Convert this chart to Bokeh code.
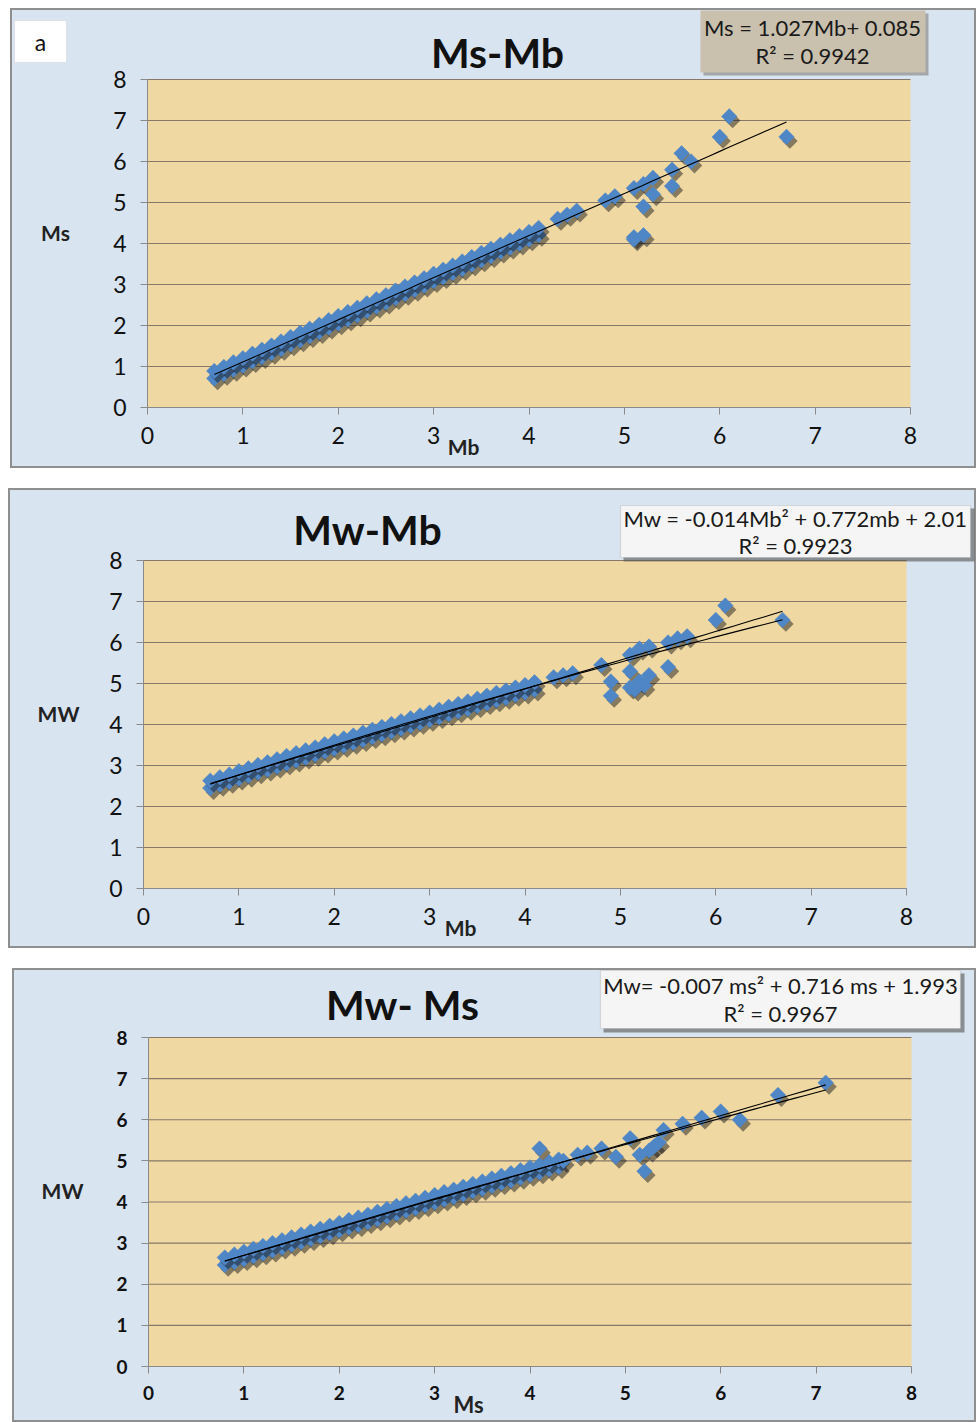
import numpy as np
from bokeh.plotting import figure
from bokeh.layouts import column
from bokeh.models import Label, FixedTicker, Range1d, LinearAxis, BoxAnnotation
from bokeh.embed import file_html
from bokeh.resources import INLINE

# ---------------- data ----------------
# Panel a: Ms vs Mb
mb_band1 = [0.7, 0.8, 0.9, 1.0, 1.1, 1.2, 1.3, 1.4, 1.5, 1.6, 1.7, 1.8, 1.9, 2.0, 2.1, 2.2, 2.3, 2.4,
            2.5, 2.6, 2.7, 2.8, 2.9, 3.0, 3.1, 3.2, 3.3, 3.4, 3.5, 3.6, 3.7, 3.8, 3.9, 4.0, 4.1]
ms_band1_lo = [0.71, 0.82, 0.92, 1.02, 1.13, 1.23, 1.33, 1.43, 1.54, 1.64, 1.74, 1.84, 1.95, 2.05, 2.15,
               2.25, 2.36, 2.46, 2.56, 2.67, 2.77, 2.87, 2.97, 3.08, 3.18, 3.28, 3.38, 3.49, 3.59, 3.69,
               3.80, 3.90, 4.00, 4.10, 4.21]
ms_band1_hi = [0.89, 0.99, 1.10, 1.20, 1.31, 1.41, 1.51, 1.61, 1.72, 1.82, 1.92, 2.02, 2.13, 2.23, 2.33,
               2.43, 2.54, 2.64, 2.74, 2.85, 2.95, 3.05, 3.15, 3.26, 3.36, 3.46, 3.56, 3.67, 3.77, 3.87,
               3.97, 4.08, 4.18, 4.28, 4.38]
mb_out1 = [4.3, 4.4, 4.5, 4.8, 4.9, 5.1, 5.1, 5.1, 5.2, 5.2, 5.2, 5.3, 5.3, 5.5, 5.5, 5.6, 5.7, 6.0, 6.1, 6.7]
ms_out1 = [4.6, 4.7, 4.8, 5.05, 5.15, 5.35, 4.15, 4.1, 4.9, 4.2, 5.45, 5.6, 5.2, 5.4, 5.8, 6.2, 6.0, 6.6, 7.1, 6.6]
fit1_lin = [1.027, 0.085]
fit1_range = [0.7, 6.7]

# Panel b: Mw vs Mb
mb_band2 = [0.7, 0.8, 0.9, 1.0, 1.1, 1.2, 1.3, 1.4, 1.5, 1.6, 1.7, 1.8, 1.9, 2.0, 2.1, 2.2, 2.3, 2.4,
            2.5, 2.6, 2.7, 2.8, 2.9, 3.0, 3.1, 3.2, 3.3, 3.4, 3.5, 3.6, 3.7, 3.8, 3.9, 4.0, 4.1]
mw_band2_lo = [2.45, 2.53, 2.60, 2.68, 2.75, 2.83, 2.90, 2.97, 3.05, 3.12, 3.19, 3.26, 3.34, 3.41, 3.48,
               3.55, 3.62, 3.69, 3.76, 3.83, 3.90, 3.97, 4.04, 4.11, 4.18, 4.25, 4.32, 4.38, 4.45, 4.52,
               4.59, 4.65, 4.72, 4.78, 4.85]
mw_band2_hi = [2.63, 2.71, 2.78, 2.86, 2.93, 3.01, 3.08, 3.15, 3.23, 3.30, 3.37, 3.44, 3.52, 3.59, 3.66,
               3.73, 3.80, 3.87, 3.94, 4.01, 4.08, 4.15, 4.22, 4.29, 4.36, 4.43, 4.50, 4.56, 4.63, 4.70,
               4.77, 4.83, 4.90, 4.96, 5.03]
mb_out2 = [4.3, 4.4, 4.5, 4.8, 4.9, 4.9, 5.1, 5.1, 5.1, 5.15, 5.2, 5.2, 5.25, 5.3, 5.3, 5.5, 5.5, 5.6, 5.7,
           6.0, 6.1, 6.7]
mw_out2 = [5.15, 5.2, 5.25, 5.45, 5.05, 4.7, 5.7, 5.3, 4.9, 4.85, 5.85, 5.05, 4.95, 5.9, 5.2, 6.0, 5.4, 6.1,
           6.15, 6.55, 6.9, 6.55]
fit2_quad = [-0.014, 0.772, 2.01]
fit2_lin = [0.70, 2.07]
fit2_range = [0.7, 6.7]

# Panel c: Mw vs Ms
ms_band3 = [0.8, 0.9, 1.0, 1.1, 1.2, 1.3, 1.4, 1.5, 1.6, 1.7, 1.8, 1.9, 2.0, 2.1, 2.2, 2.3, 2.4, 2.5,
            2.6, 2.7, 2.8, 2.9, 3.0, 3.1, 3.2, 3.3, 3.4, 3.5, 3.6, 3.7, 3.8, 3.9, 4.0, 4.1, 4.2, 4.3]
mw_band3_lo = [2.47, 2.54, 2.61, 2.68, 2.75, 2.82, 2.89, 2.96, 3.03, 3.10, 3.17, 3.24, 3.31, 3.38, 3.44,
               3.51, 3.58, 3.65, 3.72, 3.79, 3.85, 3.92, 3.99, 4.06, 4.12, 4.19, 4.26, 4.32, 4.39, 4.46,
               4.52, 4.59, 4.66, 4.72, 4.79, 4.85]
mw_band3_hi = [2.65, 2.72, 2.79, 2.86, 2.93, 3.00, 3.07, 3.14, 3.21, 3.28, 3.35, 3.42, 3.49, 3.56, 3.62,
               3.69, 3.76, 3.83, 3.90, 3.97, 4.03, 4.10, 4.17, 4.24, 4.30, 4.37, 4.44, 4.50, 4.57, 4.64,
               4.70, 4.77, 4.84, 4.90, 4.97, 5.03]
ms_out3 = [4.1, 4.35, 4.5, 4.6, 4.75, 4.9, 5.05, 5.15, 5.2, 5.25, 5.3, 5.35, 5.4, 5.6, 5.8, 6.0, 6.2, 6.6, 7.1]
mw_out3 = [5.3, 5.0, 5.15, 5.2, 5.3, 5.1, 5.55, 5.15, 4.75, 5.25, 5.35, 5.45, 5.75, 5.9, 6.05, 6.2, 6.0, 6.6, 6.9]
fit3_quad = [-0.007, 0.716, 1.993]
fit3_lin = [0.68, 2.02]
fit3_range = [0.8, 7.1]

tick_values = [0, 1, 2, 3, 4, 5, 6, 7, 8]
axis_limits = [0, 8]

titles = ["Ms-Mb", "Mw-Mb", "Mw- Ms"]
x_labels = ["Mb", "Mb", "Ms"]
y_labels = ["Ms", "MW", "MW"]
eq_line1 = ["Ms = 1.027Mb+ 0.085",
            "Mw = -0.014Mb\u00b2 + 0.772mb + 2.01",
            "Mw= -0.007 ms\u00b2 + 0.716 ms + 1.993"]
eq_line2 = ["R\u00b2 = 0.9942", "R\u00b2 = 0.9923", "R\u00b2 = 0.9967"]

# ---------------- styling ----------------
OUTER = "#d8e4f0"
PAPER = "#f0d8a2"
GRID = "#86796a"
BLUE = "#4f86c6"
FONT = "Lato"


class Panel:
    def __init__(self, fx, fy, w, h, x0, x8, y8, y0, mtop):
        self.fx, self.fy, self.w, self.h = fx, fy, w, h
        xs = (x8 - x0) / 8.0
        ys = (y0 - y8) / 8.0
        xstart = -(x0 - fx) / xs
        yend = 8 + (y8 - fy) / ys
        self.p = figure(width=w, height=h, output_backend="svg", toolbar_location=None, title=None,
                        x_range=Range1d(xstart, xstart + w / xs),
                        y_range=Range1d(yend - h / ys, yend),
                        x_axis_location=None, y_axis_location=None,
                        min_border=0, min_border_left=0, min_border_right=0,
                        min_border_top=0, min_border_bottom=0,
                        background_fill_color=OUTER, border_fill_color=OUTER)
        self.p.margin = (mtop, 0, 0, fx)
        self.p.outline_line_color = "#8f8f8f"
        self.p.outline_line_width = 3
        self.p.grid.visible = False

    def sx(self, px):
        return px - self.fx

    def sy(self, py):
        return self.fy + self.h - py

    def label(self, px, py, text, size, bold=False, color="#111111", font=FONT, align="center"):
        self.p.add_layout(Label(x=self.sx(px), y=self.sy(py), x_units="screen", y_units="screen",
                                text=text, text_align=align, text_baseline="middle",
                                text_font=font, text_font_size=size,
                                text_font_style="bold" if bold else "normal", text_color=color,
                                level="overlay"))

    def box(self, l, t, r, b, fill, line=None, alpha=1.0):
        self.p.add_layout(BoxAnnotation(left=self.sx(l), right=self.sx(r), top=self.sy(t), bottom=self.sy(b),
                                        left_units="screen", right_units="screen",
                                        top_units="screen", bottom_units="screen",
                                        fill_color=fill, fill_alpha=alpha,
                                        line_color=line, line_width=1.2 if line else 0,
                                        level="annotation"))


def setup_axes(pan, tick_size, tick_style):
    p = pan.p
    p.add_layout(BoxAnnotation(left=axis_limits[0], right=axis_limits[1],
                               bottom=axis_limits[0], top=axis_limits[1],
                               fill_color=PAPER, fill_alpha=1.0, line_color=None, level="underlay"))
    tv = np.asarray(tick_values, dtype=float)
    p.segment(x0=np.full_like(tv, axis_limits[0]), x1=np.full_like(tv, axis_limits[1]),
              y0=tv, y1=tv, line_color=GRID, line_width=1.1)
    xa = LinearAxis(fixed_location=0, bounds=(axis_limits[0], axis_limits[1]))
    ya = LinearAxis(fixed_location=0, bounds=(axis_limits[0], axis_limits[1]))
    for ax in (xa, ya):
        ax.ticker = FixedTicker(ticks=tick_values)
        ax.axis_line_color = "#8a8a8a"
        ax.major_tick_line_color = "#8a8a8a"
        ax.major_tick_out = 7
        ax.major_tick_in = 0
        ax.minor_tick_line_color = None
        ax.major_label_text_font = FONT
        ax.major_label_text_font_style = tick_style
        ax.major_label_text_font_size = tick_size
        ax.major_label_text_color = "#111111"
    xa.major_label_standoff = 12
    ya.major_label_standoff = 14
    p.add_layout(xa, "below")
    p.add_layout(ya, "left")


def add_points(p, xs, ys):
    xs = np.asarray(xs, dtype=float)
    ys = np.asarray(ys, dtype=float)
    p.scatter(xs + 0.035, ys - 0.1, marker="square", angle=np.pi / 4, size=11,
              fill_color="#1a1a1a", fill_alpha=0.5, line_color=None)
    p.scatter(xs, ys, marker="square", angle=np.pi / 4, size=11,
              fill_color=BLUE, line_color=BLUE, line_width=0.5)


def add_fit(p, coeffs, xr):
    xx = np.linspace(xr[0], xr[1], 60)
    p.line(xx, np.polyval(coeffs, xx), line_color="#000000", line_width=1.1)


# ---------------- Panel a ----------------
A = Panel(10, 8, 966, 460, 147, 910, 79, 407, 8)
setup_axes(A, "23px", "normal")
add_points(A.p, mb_band1, ms_band1_lo)
add_points(A.p, mb_band1, ms_band1_hi)
add_points(A.p, mb_out1, ms_out1)
add_fit(A.p, fit1_lin, fit1_range)
A.box(703, 13, 928, 75, "#6f6a62", alpha=0.5)
A.box(700, 10, 925, 72, "#c9c0ae")
A.box(14, 20, 66, 62, "#ffffff", line="#c0c0c0")
A.label(497, 52, titles[0], "41px", bold=True)
A.label(463, 446, x_labels[0], "21px", bold=True, color="#222222")
A.label(55, 232, y_labels[0], "21px", bold=True, color="#222222")
A.label(812, 27, eq_line1[0], "22px", color="#1a1a1a")
A.label(812, 55, eq_line2[0], "22px", color="#1a1a1a")
A.label(40, 41, "a", "23px", color="#111111")

# ---------------- Panel b ----------------
B = Panel(8, 488, 968, 460, 143, 906, 560, 888, 20)
setup_axes(B, "23px", "normal")
add_points(B.p, mb_band2, mw_band2_lo)
add_points(B.p, mb_band2, mw_band2_hi)
add_points(B.p, mb_out2, mw_out2)
add_fit(B.p, fit2_quad, fit2_range)
add_fit(B.p, fit2_lin, fit2_range)
B.box(623, 508, 974, 561, "#555555", alpha=0.6)
B.box(620, 505, 970, 557, "#f5f5f5", line="#a0a0a0")
B.label(367, 529, titles[1], "41px", bold=True)
B.label(460, 927, x_labels[1], "21px", bold=True, color="#222222")
B.label(58, 713, y_labels[1], "21px", bold=True, color="#222222")
B.label(795, 518, eq_line1[1], "22px", color="#1a1a1a")
B.label(795, 545, eq_line2[1], "22px", color="#1a1a1a")

# ---------------- Panel c ----------------
C = Panel(12, 968, 964, 454, 148, 911, 1037, 1366, 20)
setup_axes(C, "19px", "bold")
add_points(C.p, ms_band3, mw_band3_lo)
add_points(C.p, ms_band3, mw_band3_hi)
add_points(C.p, ms_out3, mw_out3)
add_fit(C.p, fit3_quad, fit3_range)
add_fit(C.p, fit3_lin, fit3_range)
C.box(603, 973, 964, 1032, "#555555", alpha=0.6)
C.box(600, 970, 960, 1028, "#f5f5f5", line="#a0a0a0")
C.label(402, 1004, titles[2], "41px", bold=True)
C.label(468, 1404, x_labels[2], "22px", bold=True, color="#222222")
C.label(62, 1190, y_labels[2], "21px", bold=True, color="#222222")
C.label(780, 985, eq_line1[2], "22px", color="#1a1a1a")
C.label(780, 1013, eq_line2[2], "22px", color="#1a1a1a")

layout = column(A.p, B.p, C.p, spacing=0)
open("out.html", "w").write(file_html(layout, INLINE))
